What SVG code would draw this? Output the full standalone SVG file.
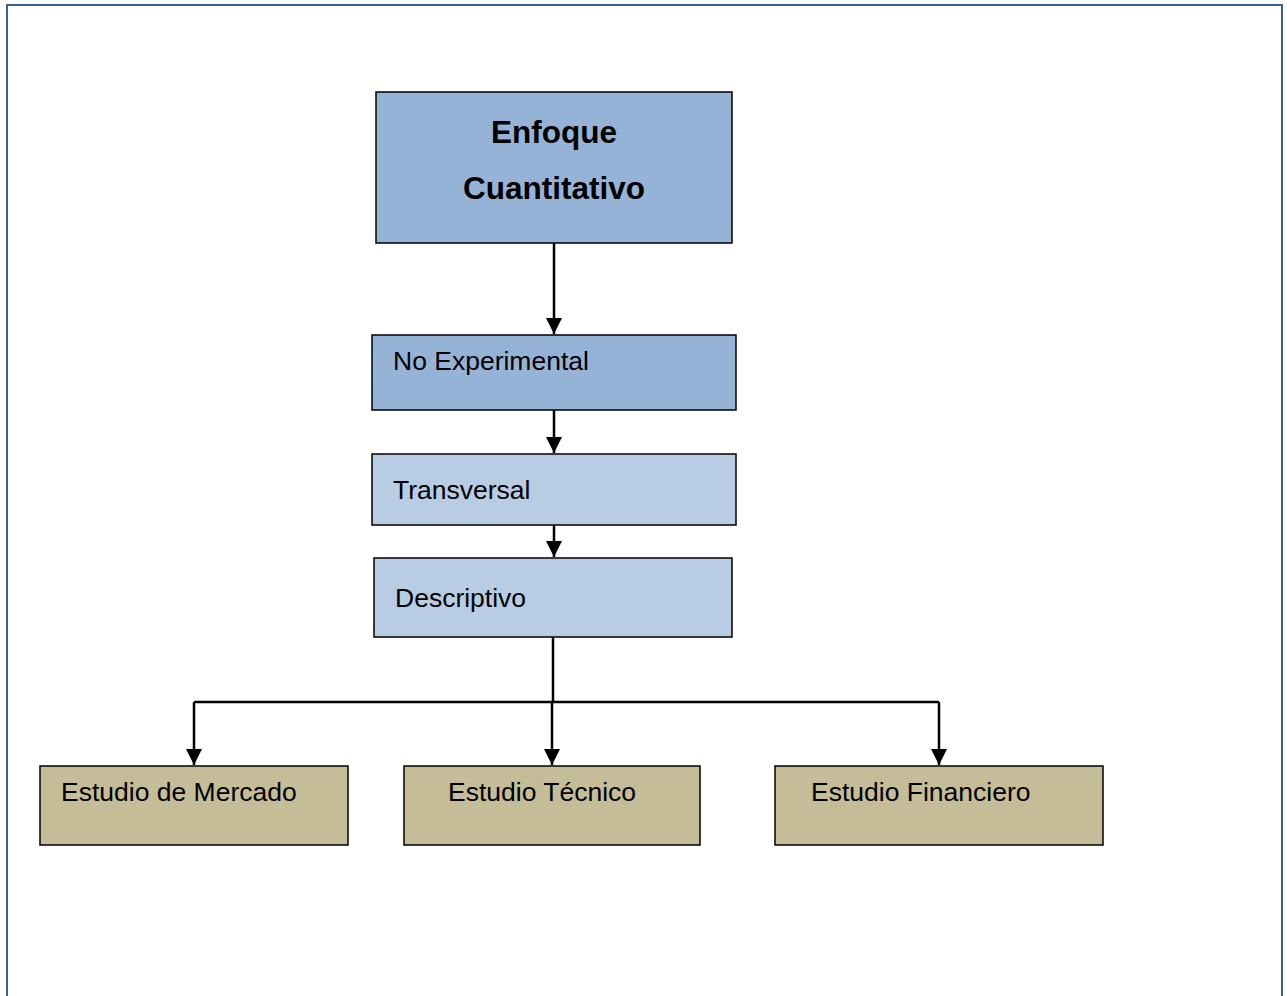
<svg xmlns="http://www.w3.org/2000/svg" width="1287" height="996" viewBox="0 0 1287 996">
<style>
.box{stroke:#000;stroke-width:1.5}
.dark{fill:#95b3d7}
.light{fill:#b8cce4}
.tan{fill:#c4bd97}
.t{font-family:"Liberation Sans",Arial,sans-serif;font-size:26.5px;fill:#000}
.b{font-family:"Liberation Sans",Arial,sans-serif;font-size:31.5px;font-weight:bold;fill:#000}
.c{stroke:#000;stroke-width:2.5;fill:none}
</style>
<defs>
<marker id="ah2" markerWidth="16" markerHeight="16" refX="16" refY="8" orient="auto" markerUnits="userSpaceOnUse" viewBox="0 0 16 16">
<path d="M0,0 L16,8 L0,16 z" fill="#000"/>
</marker>
</defs>
<path d="M7,996 V5 H1282 V996" fill="none" stroke="#3a5f93" stroke-width="2"/>
<g id="connectors">
<path class="c" d="M554,243 V334" marker-end="url(#ah2)"/>
<path class="c" d="M554,410 V453" marker-end="url(#ah2)"/>
<path class="c" d="M554,525 V557" marker-end="url(#ah2)"/>
<path class="c" d="M553,637 V702"/>
<path class="c" d="M194,702 H939"/>
<path class="c" d="M194,702 V765" marker-end="url(#ah2)"/>
<path class="c" d="M552,702 V765" marker-end="url(#ah2)"/>
<path class="c" d="M939,702 V765" marker-end="url(#ah2)"/>
</g>
<g id="enfoque">
<rect class="box dark" x="376" y="92" width="356" height="151"/>
<text class="b" x="554" y="143" text-anchor="middle">Enfoque</text>
<text class="b" x="554" y="199" text-anchor="middle">Cuantitativo</text>
</g>
<g id="noexp">
<rect class="box dark" x="372" y="335" width="364" height="75"/>
<text class="t" x="393" y="370">No Experimental</text>
</g>
<g id="transversal">
<rect class="box light" x="372" y="454" width="364" height="71"/>
<text class="t" x="393" y="499">Transversal</text>
</g>
<g id="descriptivo">
<rect class="box light" x="374" y="558" width="358" height="79"/>
<text class="t" x="395" y="607">Descriptivo</text>
</g>
<g id="mercado">
<rect class="box tan" x="40" y="766" width="308" height="79"/>
<text class="t" x="61" y="801">Estudio de Mercado</text>
</g>
<g id="tecnico">
<rect class="box tan" x="404" y="766" width="296" height="79"/>
<text class="t" x="448" y="801">Estudio Técnico</text>
</g>
<g id="financiero">
<rect class="box tan" x="775" y="766" width="328" height="79"/>
<text class="t" x="811" y="801">Estudio Financiero</text>
</g>
</svg>
